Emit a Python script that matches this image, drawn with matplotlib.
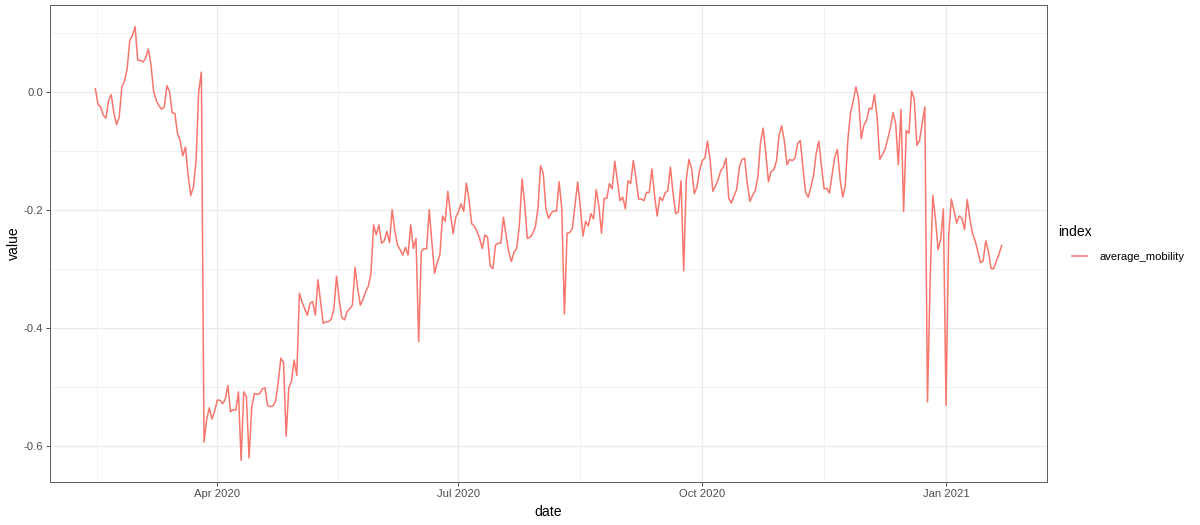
import matplotlib
matplotlib.use('Agg')
import matplotlib.pyplot as plt
import matplotlib.dates as mdates
import pandas as pd
import numpy as np

plt.rcParams['font.family'] = ['Liberation Sans', 'DejaVu Sans']

# daily average mobility, starting 2020-02-15
start_date = '2020-02-15'
series_name = 'average_mobility'
legend_title = 'index'

feb_mar = [0.005, -0.022, -0.026, -0.040, -0.045, -0.015, -0.005, -0.037, -0.056, -0.043,
           0.008, 0.018, 0.039, 0.087, 0.095, 0.110, 0.053, 0.053, 0.050, 0.057,
           0.072, 0.045, 0.000, -0.015, -0.024, -0.030, -0.026, 0.010, 0.000, -0.036,
           -0.037, -0.071, -0.083, -0.109, -0.094, -0.142, -0.176, -0.162, -0.117, 0.000,
           0.033]
lockdown = [-0.594, -0.556, -0.536, -0.555, -0.542, -0.523, -0.523, -0.529, -0.522, -0.498,
            -0.543, -0.539, -0.540, -0.509, -0.625, -0.509, -0.517, -0.621, -0.536, -0.512,
            -0.513, -0.512, -0.504, -0.502, -0.532, -0.534, -0.533, -0.525, -0.493, -0.452,
            -0.459, -0.584, -0.502, -0.491, -0.455, -0.481]
may_jun = [-0.342, -0.357, -0.368, -0.379, -0.359, -0.356, -0.379, -0.319, -0.357, -0.393,
           -0.390, -0.390, -0.386, -0.369, -0.313, -0.352, -0.383, -0.387, -0.373, -0.368,
           -0.362, -0.298, -0.334, -0.362, -0.352, -0.339, -0.330, -0.309, -0.226, -0.243,
           -0.226, -0.257, -0.253, -0.237, -0.256]
jun_jul = [-0.200, -0.236, -0.260, -0.268, -0.277, -0.264, -0.277, -0.226, -0.266, -0.249,
           -0.424, -0.271, -0.266, -0.267, -0.200, -0.256, -0.308, -0.290, -0.277, -0.211,
           -0.220, -0.169, -0.207, -0.241, -0.213, -0.204, -0.190, -0.203, -0.155, -0.183,
           -0.224, -0.228, -0.237, -0.249, -0.266, -0.243, -0.247, -0.296, -0.300, -0.260]
jul_aug = [-0.257, -0.257, -0.213, -0.244, -0.272, -0.288, -0.272, -0.266, -0.227, -0.148,
           -0.190, -0.249, -0.247, -0.241, -0.230, -0.199, -0.126, -0.138, -0.198, -0.215,
           -0.206, -0.202, -0.203, -0.153, -0.198, -0.377, -0.240, -0.239, -0.232, -0.193,
           -0.153, -0.196, -0.245, -0.220, -0.228, -0.207, -0.216, -0.166]
aug_sep = [-0.194, -0.240, -0.181, -0.181, -0.156, -0.165, -0.118, -0.151, -0.185, -0.179,
           -0.199, -0.151, -0.156, -0.117, -0.147, -0.182, -0.182, -0.185, -0.171, -0.171,
           -0.131, -0.176, -0.211, -0.179, -0.185, -0.172, -0.168, -0.128, -0.173, -0.207,
           -0.204, -0.151, -0.304, -0.148, -0.115, -0.131, -0.173, -0.162, -0.134]
oct_nov = [-0.117, -0.113, -0.084, -0.117, -0.169, -0.160, -0.149, -0.134, -0.128, -0.113,
           -0.181, -0.189, -0.177, -0.166, -0.128, -0.115, -0.113, -0.156, -0.186, -0.176,
           -0.168, -0.145, -0.086, -0.062, -0.105, -0.153, -0.135, -0.133, -0.118, -0.074,
           -0.058, -0.084, -0.124, -0.115, -0.117, -0.113, -0.088]
nov_dec = [-0.083, -0.128, -0.171, -0.179, -0.162, -0.142, -0.105, -0.084, -0.126, -0.165,
           -0.164, -0.172, -0.142, -0.111, -0.098, -0.147, -0.179, -0.159, -0.079, -0.035,
           -0.016, 0.008, -0.012, -0.080, -0.057, -0.049, -0.028, -0.030, -0.005, -0.045,
           -0.115, -0.107, -0.098, -0.080, -0.062, -0.036, -0.054, -0.124]
dec_jan = [-0.030, -0.203, -0.066, -0.071, 0.001, -0.013, -0.091, -0.083, -0.054, -0.026,
           -0.526, -0.320, -0.176, -0.215, -0.268, -0.250, -0.199, -0.532, -0.244, -0.182,
           -0.202, -0.223, -0.211, -0.215, -0.234, -0.183, -0.216, -0.241, -0.253, -0.271,
           -0.290, -0.287, -0.253, -0.271, -0.300, -0.300, -0.287, -0.275, -0.261]

values = feb_mar + lockdown + may_jun + jun_jul + jul_aug + aug_sep + oct_nov + nov_dec + dec_jan
df = pd.DataFrame({'date': pd.date_range(start_date, periods=len(values), freq='D'),
                   'value': values})

y_ticks = [-0.6, -0.4, -0.2, 0.0]
x_ticks = pd.to_datetime(['2020-04-01', '2020-07-01', '2020-10-01', '2021-01-01'])

fig = plt.figure(figsize=(12, 5.25), dpi=100)
ax = fig.add_axes([0.0417, 0.0819, 0.8308, 0.9086])

ax.plot(df['date'], df['value'], color='#F8766D', lw=1.1, label=series_name)
ax.margins(x=0.05, y=0.05)

# major / minor breaks like ggplot
ax.set_xticks(x_ticks)
ax.xaxis.set_major_formatter(mdates.DateFormatter('%b %Y'))
xt = mdates.date2num(x_ticks)
x_minor = np.concatenate([[xt[0] - (xt[1] - xt[0]) / 2], (xt[:-1] + xt[1:]) / 2])
ax.set_xticks(x_minor, minor=True)
ax.set_yticks(y_ticks)
ax.set_yticklabels(['%.1f' % v for v in y_ticks])
y_minor = [-0.5, -0.3, -0.1, 0.1]
ax.set_yticks(y_minor, minor=True)

ax.grid(which='major', color='#EBEBEB', lw=0.9)
ax.grid(which='minor', color='#EBEBEB', lw=0.45)
ax.set_axisbelow(True)
ax.tick_params(which='major', length=3, width=0.7, color='#4D4D4D',
               labelsize=8.1, labelcolor='#4D4D4D', pad=2)
ax.tick_params(which='minor', length=0)
for s in ax.spines.values():
    s.set_color('#5A5A5A')
    s.set_linewidth(0.7)

ax.set_xlabel('date', fontsize=10.1, labelpad=4)
ax.set_ylabel('value', fontsize=10.1, labelpad=2)

# legend: title on its own so the key can sit indented like ggplot
fig.text(1058 / 1200, 1 - 231.5 / 525, legend_title, fontsize=10.1, va='center', ha='left')
leg = ax.legend(loc='center left', bbox_to_anchor=(1062 / 1200, 1 - 256.5 / 525),
                bbox_transform=fig.transFigure, frameon=False, fontsize=8.1,
                handlelength=1.33, handletextpad=1.07)

fig.savefig('out.png')
